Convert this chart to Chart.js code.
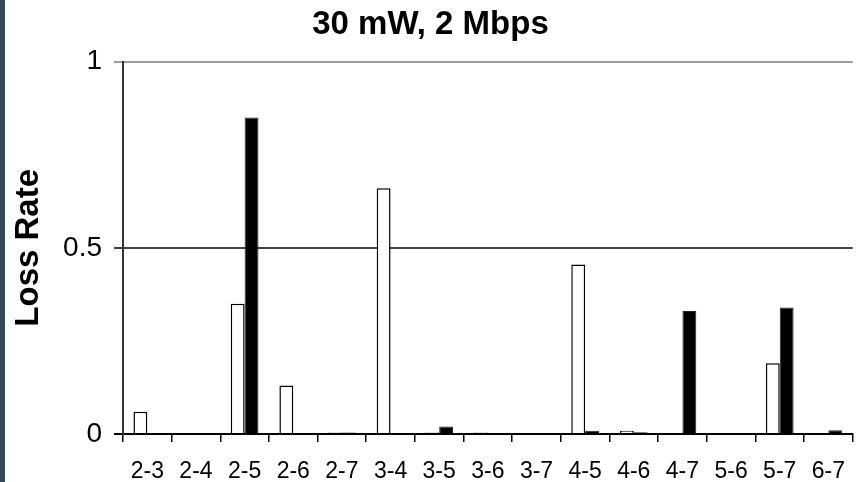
<!DOCTYPE html>
<html>
<head>
<meta charset="utf-8">
<script src="https://cdn.jsdelivr.net/npm/chart.js@4"></script>
<style>
  body { margin: 0; background: #fff; }
  #wrap { position: relative; width: 861px; height: 482px; }
  #strip { position: absolute; left: 0; top: 0; width: 5px; height: 482px; background: #34475a; }
  canvas { position: absolute; left: 0; top: 0; }
</style>
</head>
<body>
<div id="wrap">
  <canvas id="myChart" width="861" height="482"></canvas>
  <div id="strip"></div>
</div>
<script>
// Link pairs and measured loss rates
let links = ['2-3', '2-4', '2-5', '2-6', '2-7', '3-4', '3-5', '3-6', '3-7', '4-5', '4-6', '4-7', '5-6', '5-7', '6-7'];
let whiteLoss = [0.06, 0, 0.35, 0.13, 0.004, 0.66, 0.004, 0.004, 0, 0.455, 0.009, 0.003, 0, 0.19, 0];
let blackLoss = [0, 0, 0.85, 0, 0.004, 0, 0.02, 0, 0, 0.009, 0.005, 0.33, 0, 0.34, 0.01];
let yTicks = [0, 0.5, 1];

let font = '"Liberation Sans", Arial, sans-serif';

let ctx = document.getElementById('myChart').getContext('2d');
let chart = new Chart(ctx, {
    type: 'bar',
    data: {
        labels: links,
        datasets: [{
            data: whiteLoss,
            backgroundColor: '#fff',
            borderColor: '#000',
            borderWidth: 1.5,
            categoryPercentage: 0.57,
            barPercentage: 1
        }, {
            data: blackLoss,
            backgroundColor: '#000',
            borderColor: '#222',
            borderWidth: 1,
            categoryPercentage: 0.57,
            barPercentage: 1
        }]
    },
    options: {
        responsive: false,
        animation: false,
        layout: { padding: 0 },
        plugins: {
            legend: { display: false },
            tooltip: { enabled: false },
            title: {
                display: true,
                text: '30 mW, 2 Mbps',
                color: '#000',
                font: { family: font, size: 33, weight: 'bold' },
                padding: { top: 5, bottom: 17 }
            }
        },
        scales: {
            x: {
                grid: { offset: true, drawOnChartArea: false, drawTicks: true, tickLength: 8, color: '#000', lineWidth: 1.5 },
                border: { display: true, color: '#000', width: 2 },
                ticks: { color: '#000', font: { family: font, size: 23 }, padding: 16, maxRotation: 0, autoSkip: false },
                afterFit: function (scale) { scale.height = 48; }
            },
            y: {
                min: 0,
                max: 1,
                afterBuildTicks: function (scale) { scale.ticks = yTicks.map(v => ({ value: v })); },
                grid: {
                    tickLength: 9,
                    lineWidth: 2,
                    color: function (c) {
                        if (c.tick.value === 0) return '#000';
                        if (c.tick.value === 0.5) return '#444';
                        return '#9a9a9a';
                    }
                },
                border: { display: true, color: '#333', width: 2 },
                ticks: {
                    color: '#000',
                    font: { family: font, size: 28 },
                    padding: 12,
                    callback: function (v) { return String(v); }
                },
                title: {
                    display: true,
                    text: 'Loss Rate',
                    color: '#000',
                    font: { family: font, size: 33, weight: 'bold' },
                    padding: { top: 9, bottom: 0 }
                },
                afterFit: function (scale) { scale.width = 123; }
            }
        }
    }
});
</script>
</body>
</html>
